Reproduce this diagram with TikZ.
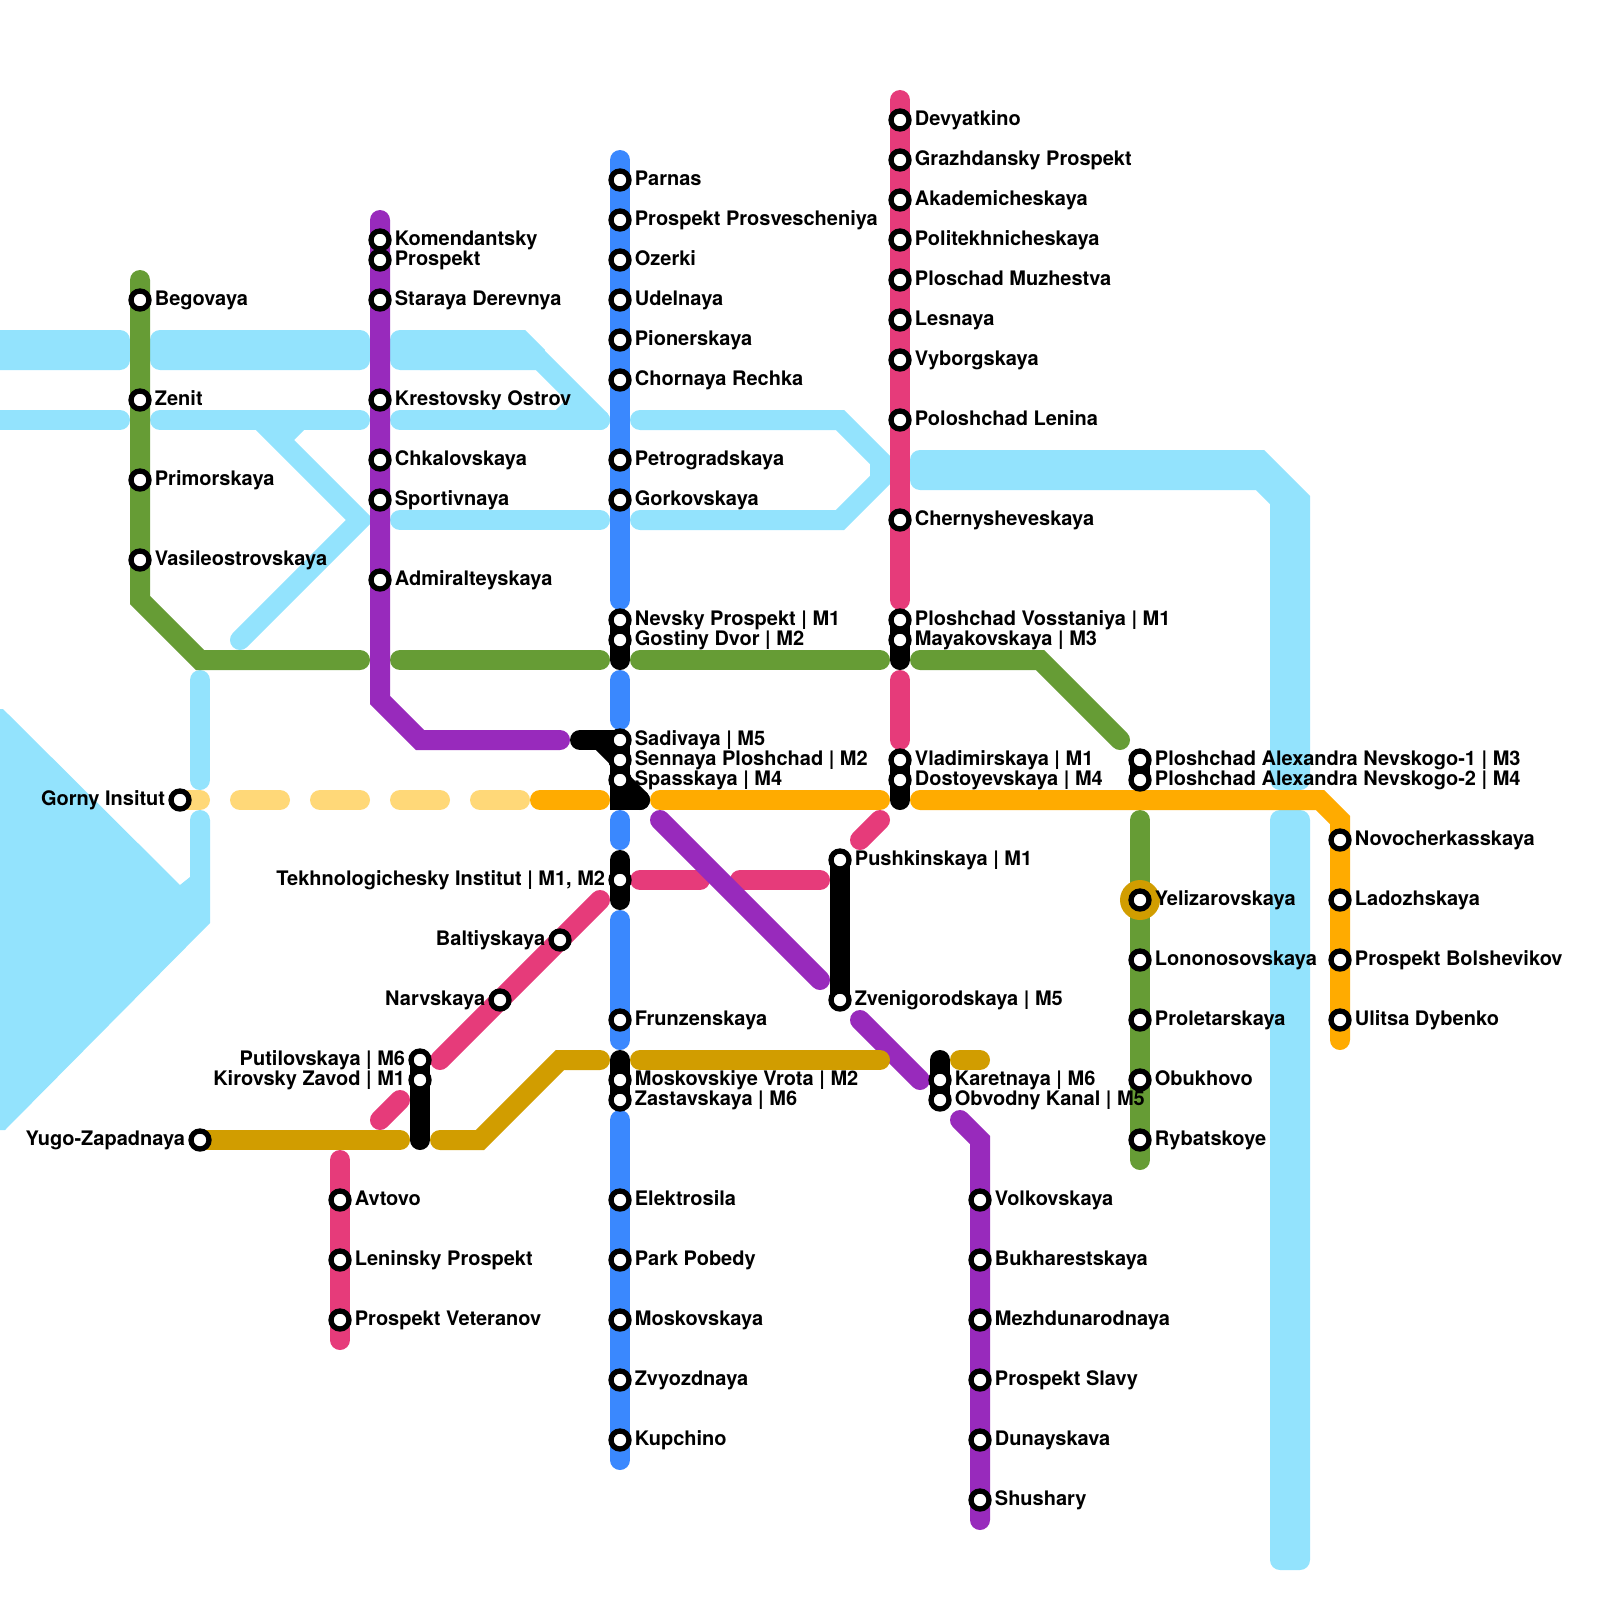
\documentclass[tikz,border=0pt]{standalone}
\usepackage{fontspec}
\setmainfont{TeX Gyre Heros}
\definecolor{water}{HTML}{93E3FD}
\definecolor{lblue}{HTML}{3A88FE}
\definecolor{lpink}{HTML}{E63B7A}
\definecolor{lpurple}{HTML}{982ABC}
\definecolor{lgreen}{HTML}{669C35}
\definecolor{lorange}{HTML}{FFAB00}
\definecolor{lgold}{HTML}{D19D00}
\definecolor{lfaint}{HTML}{FFD878}
\tikzset{
  mline/.style={line width=10pt,line cap=round,line join=miter},
  wat/.style={mline,draw=water},
  widewat/.style={fill=water,rounded corners=5pt},
  blu/.style={mline,draw=lblue},
  pnk/.style={mline,draw=lpink},
  pur/.style={mline,draw=lpurple},
  grn/.style={mline,draw=lgreen},
  org/.style={mline,draw=lorange},
  gld/.style={mline,draw=lgold},
  fnt/.style={mline,draw=lfaint},
  blk/.style={mline,draw=black},
  stn/.style={circle,draw=black,fill=white,line width=2.65pt,minimum size=9pt,inner sep=0pt},
  lab/.style={font=\bfseries\fontsize{10pt}{12pt}\selectfont,text=black,inner sep=0pt}
}
% \SR name x y label : station with label on the right; \SL : on the left
\newcommand{\SR}[4]{\node[stn] (#1) at (#2,#3) {}; \node[lab,anchor=base west] (#1t) at (#2+14.5,#3+5.5) {#4};}
\newcommand{\SL}[4]{\node[stn] (#1) at (#2,#3) {}; \node[lab,anchor=base east] (#1t) at (#2-14.5,#3+5.5) {#4};}
\begin{document}
\begin{tikzpicture}[x=0.5pt,y=-0.5pt]
\useasboundingbox (0,0) rectangle (1600,1600);
% water
\fill[water] (-2,709) -- (3,709) -- (7,713) -- (180,885) -- (190,877) -- (190,820) -- (210,820) -- (210,923) -- (5,1130) -- (-2,1130) -- cycle;
\draw[wat] (200,680) -- (200,780);
\draw[wat] (200,820) -- (200,900);
\path[widewat] (-30,330) rectangle (130,370);
\path[widewat] (150,330) rectangle (370,370);
\path[widewat] (390,330) rectangle (450,370);
\fill[water] (420,330) -- (525,330) -- (545,350) -- (537,370) -- (420,370) -- cycle;
\draw[wat] (500,340) -- (520,340) -- (600,420);
\draw[wat] (-20,420) -- (120,420);
\draw[wat] (160,420) -- (360,420);
\draw[wat] (400,420) -- (600,420);
\draw[wat,line cap=butt] (580,400) -- (560,420);
\draw[wat] (260,420) -- (360,520) -- (240,640);
\draw[wat,line cap=butt] (300,420) -- (280,440);
\draw[wat] (400,520) -- (600,520);
\draw[wat] (640,420) -- (840,420) -- (880,460) -- (880,480) -- (840,520) -- (640,520);
\path[widewat] (910,450) rectangle (1250,490);
\draw[wat] (1240,460) -- (1260,460) -- (1300,500) -- (1300,780);
\draw[wat] (1240,480) -- (1260,480) -- (1280,500) -- (1280,780);
\fill[water] (1280,500) rectangle (1300,790);
\fill[water] (1255,460) -- (1265,460) -- (1295,500) -- (1280,500) -- (1260,480) -- cycle;
\path[widewat] (1270,810) rectangle (1310,1570);
% green
\draw[grn] (140,280) -- (140,600) -- (200,660) -- (360,660);
\draw[grn] (400,660) -- (600,660);
\draw[grn] (640,660) -- (880,660);
\draw[grn] (920,660) -- (1040,660) -- (1120,740);
\draw[grn] (1140,820) -- (1140,1160);
% blue
\draw[blu] (620,160) -- (620,600);
\draw[blu] (620,680) -- (620,720);
\draw[blu] (620,820) -- (620,840);
\draw[blu] (620,920) -- (620,1040);
\draw[blu] (620,1120) -- (620,1460);
% pink
\draw[pnk] (900,100) -- (900,600);
\draw[pnk] (900,680) -- (900,740);
\draw[pnk] (880,820) -- (860,840);
\draw[pnk] (640,880) -- (700,880);
\draw[pnk] (740,880) -- (820,880);
\draw[pnk] (600,900) -- (440,1060);
\draw[pnk] (400,1100) -- (380,1120);
\draw[pnk] (340,1160) -- (340,1340);
% purple
\draw[pur] (380,220) -- (380,700) -- (420,740) -- (560,740);
\draw[pur] (660,820) -- (820,980);
\draw[pur] (860,1020) -- (920,1080);
\draw[pur] (960,1120) -- (980,1140) -- (980,1520);
% orange
\draw[fnt] (180,800) -- (200,800);
\draw[fnt] (240,800) -- (280,800);
\draw[fnt] (320,800) -- (360,800);
\draw[fnt] (400,800) -- (440,800);
\draw[fnt] (480,800) -- (520,800);
\draw[org] (540,800) -- (600,800);
\draw[org] (660,800) -- (880,800);
\draw[org] (920,800) -- (1320,800) -- (1340,820) -- (1340,1040);
% gold
\draw[gld] (200,1140) -- (400,1140);
\draw[gld] (440,1140) -- (480,1140) -- (560,1060) -- (600,1060);
\draw[gld] (640,1060) -- (880,1060);
\draw[gld] (960,1060) -- (980,1060);
% black transfer tunnels
\draw[blk] (620,620) -- (620,660);
\draw[blk] (900,620) -- (900,660);
\draw[blk] (900,760) -- (900,800);
\draw[blk] (580,740) -- (620,740);
\draw[blk] (600,740) -- (620,760);
\draw[blk] (620,740) -- (620,800) -- (640,800);
\draw[blk] (620,780) -- (640,800);
\fill[black] (620,780) -- (640,800) -- (620,800) -- cycle;
\draw[blk] (620,860) -- (620,900);
\draw[blk] (840,860) -- (840,1000);
\draw[blk] (420,1060) -- (420,1140);
\draw[blk] (620,1060) -- (620,1100);
\draw[blk] (940,1060) -- (940,1100);
\draw[blk] (1140,760) -- (1140,780);
% Yelizarovskaya ring
\fill[lgold] (1140,900) circle (20);
% stations
\SR{a1}{140}{300}{Begovaya}
\SR{a2}{140}{400}{Zenit}
\SR{a3}{140}{480}{Primorskaya}
\SR{a4}{140}{560}{Vasileostrovskaya}
\SR{b1}{380}{240}{Komendantsky}
\SR{b2}{380}{260}{Prospekt}
\SR{b3}{380}{300}{Staraya Derevnya}
\SR{b4}{380}{400}{Krestovsky Ostrov}
\SR{b5}{380}{460}{Chkalovskaya}
\SR{b6}{380}{500}{Sportivnaya}
\SR{b7}{380}{580}{Admiralteyskaya}
\SR{c1}{620}{180}{Parnas}
\SR{c2}{620}{220}{Prospekt Prosvescheniya}
\SR{c3}{620}{260}{Ozerki}
\SR{c4}{620}{300}{Udelnaya}
\SR{c5}{620}{340}{Pionerskaya}
\SR{c6}{620}{380}{Chornaya Rechka}
\SR{c7}{620}{460}{Petrogradskaya}
\SR{c8}{620}{500}{Gorkovskaya}
\SR{c9}{620}{620}{Nevsky Prospekt | M1}
\SR{c10}{620}{640}{Gostiny Dvor | M2}
\SR{c11}{620}{740}{Sadivaya | M5}
\SR{c12}{620}{760}{Sennaya Ploshchad | M2}
\SR{c13}{620}{780}{Spasskaya | M4}
\SL{c14}{620}{880}{Tekhnologichesky Institut | M1, M2}
\SR{c15}{620}{1020}{Frunzenskaya}
\SR{c16}{620}{1080}{Moskovskiye Vrota | M2}
\SR{c17}{620}{1100}{Zastavskaya | M6}
\SR{c18}{620}{1200}{Elektrosila}
\SR{c19}{620}{1260}{Park Pobedy}
\SR{c20}{620}{1320}{Moskovskaya}
\SR{c21}{620}{1380}{Zvyozdnaya}
\SR{c22}{620}{1440}{Kupchino}
\SR{d1}{900}{120}{Devyatkino}
\SR{d2}{900}{160}{Grazhdansky Prospekt}
\SR{d3}{900}{200}{Akademicheskaya}
\SR{d4}{900}{240}{Politekhnicheskaya}
\SR{d5}{900}{280}{Ploschad Muzhestva}
\SR{d6}{900}{320}{Lesnaya}
\SR{d7}{900}{360}{Vyborgskaya}
\SR{d8}{900}{420}{Poloshchad Lenina}
\SR{d9}{900}{520}{Chernysheveskaya}
\SR{d10}{900}{620}{Ploshchad Vosstaniya | M1}
\SR{d11}{900}{640}{Mayakovskaya | M3}
\SR{d12}{900}{760}{Vladimirskaya | M1}
\SR{d13}{900}{780}{Dostoyevskaya | M4}
\SR{e1}{840}{860}{Pushkinskaya | M1}
\SR{e2}{840}{1000}{Zvenigorodskaya | M5}
\SR{e3}{940}{1080}{Karetnaya | M6}
\SR{e4}{940}{1100}{Obvodny Kanal | M5}
\SR{f1}{980}{1200}{Volkovskaya}
\SR{f2}{980}{1260}{Bukharestskaya}
\SR{f3}{980}{1320}{Mezhdunarodnaya}
\SR{f4}{980}{1380}{Prospekt Slavy}
\SR{f5}{980}{1440}{Dunayskava}
\SR{f6}{980}{1500}{Shushary}
\SR{g1}{1140}{760}{Ploshchad Alexandra Nevskogo-1 | M3}
\SR{g2}{1140}{780}{Ploshchad Alexandra Nevskogo-2 | M4}
\SR{g3}{1140}{900}{Yelizarovskaya}
\SR{g4}{1140}{960}{Lononosovskaya}
\SR{g5}{1140}{1020}{Proletarskaya}
\SR{g6}{1140}{1080}{Obukhovo}
\SR{g7}{1140}{1140}{Rybatskoye}
\SR{h1}{1340}{840}{Novocherkasskaya}
\SR{h2}{1340}{900}{Ladozhskaya}
\SR{h3}{1340}{960}{Prospekt Bolshevikov}
\SR{h4}{1340}{1020}{Ulitsa Dybenko}
\SL{i1}{180}{800}{Gorny Insitut}
\SL{i2}{200}{1140}{Yugo-Zapadnaya}
\SL{i3}{420}{1060}{Putilovskaya | M6}
\SL{i4}{420}{1080}{Kirovsky Zavod | M1}
\SL{i5}{500}{1000}{Narvskaya}
\SL{i6}{560}{940}{Baltiyskaya}
\SR{j1}{340}{1200}{Avtovo}
\SR{j2}{340}{1260}{Leninsky Prospekt}
\SR{j3}{340}{1320}{Prospekt Veteranov}
\end{tikzpicture}
\end{document}
